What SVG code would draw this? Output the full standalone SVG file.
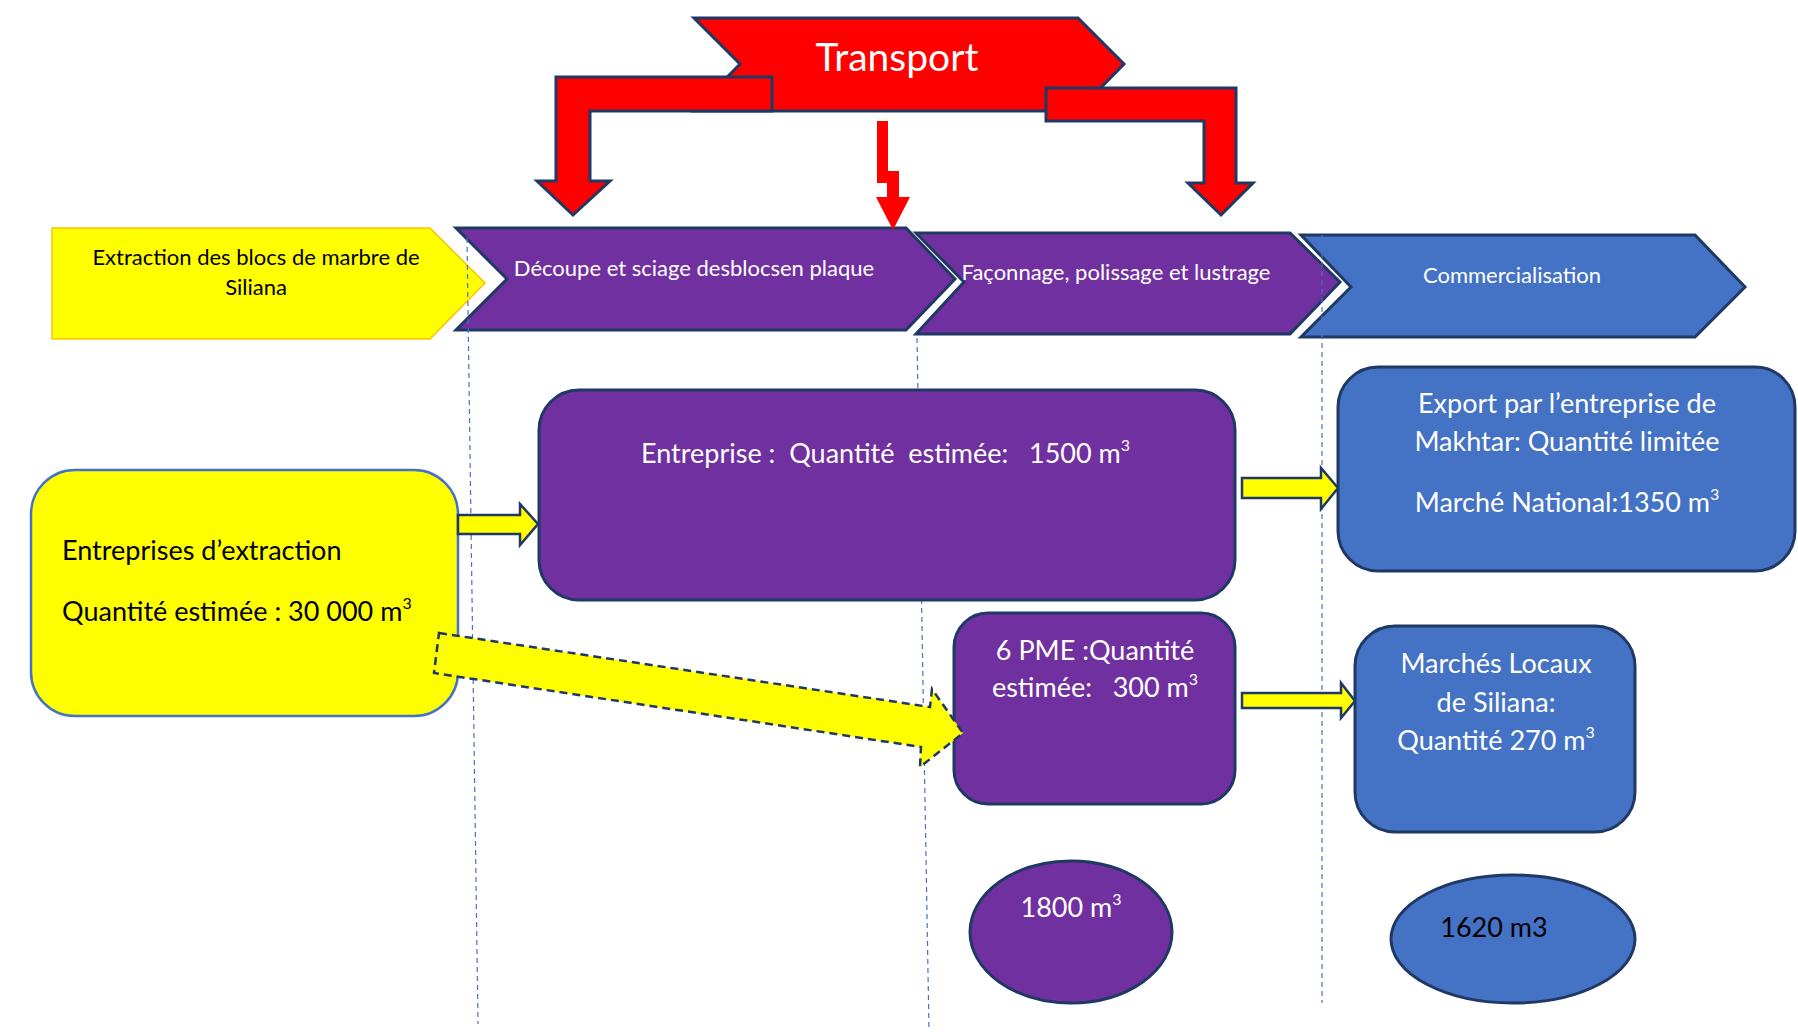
<svg xmlns="http://www.w3.org/2000/svg" width="1798" height="1032" viewBox="0 0 1798 1032">
<style>
text{font-family:Lato,"Open Sans","Liberation Sans",sans-serif}
.w{fill:#fff}
.k{fill:#000}
.chev{font-size:22px}
.box{font-size:27px}
.nv{stroke:#1F3864;stroke-width:3;stroke-linejoin:miter}
.purple{fill:#7030A0}
.blue{fill:#4472C4}
.yel{fill:#FFFF00}
.red{fill:#FF0000}
.dash{fill:none;stroke:#4472C4;stroke-width:1.2;stroke-dasharray:5 4}
.yarrow{fill:#FFFF00;stroke:#1F3864;stroke-width:2.5}
</style>
<rect width="1798" height="1032" fill="#fff"/>

<!-- process chevrons -->
<g id="step-extraction">
<polygon points="52,228 430,228 485,283 430,339 52,339" class="yel" stroke="#FFC000" stroke-width="1.5"/>
<text class="chev k" x="256" y="265" text-anchor="middle">Extraction des blocs de marbre de</text>
<text class="chev k" x="256" y="295" text-anchor="middle">Siliana</text>
</g>
<g id="step-decoupe">
<polygon points="456,228 906,228 955,279 906,330 456,330 507,279" class="purple nv"/>
<text class="chev w" x="694" y="276" text-anchor="middle">Découpe et sciage desblocsen plaque</text>
</g>
<g id="step-faconnage">
<polygon points="916,233 1290,233 1340,282 1290,334 916,334 964,282" class="purple nv"/>
<text class="chev w" x="1116" y="280" text-anchor="middle">Façonnage, polissage et lustrage</text>
</g>
<g id="step-commercialisation">
<polygon points="1301,235 1695,235 1745,287 1695,337 1301,337 1351,287" class="blue nv"/>
<text class="chev w" x="1512" y="283" text-anchor="middle">Commercialisation</text>
</g>

<!-- dashed separators -->
<g id="separators">
<line x1="467" y1="238" x2="478" y2="1024" class="dash"/>
<line x1="917" y1="338" x2="929" y2="1030" class="dash"/>
<line x1="1322" y1="235" x2="1322" y2="1003" class="dash"/>
</g>

<!-- nodes -->
<g id="entreprises-extraction">
<rect x="31" y="470" width="427" height="246" rx="44" ry="44" class="yel" stroke="#4472C4" stroke-width="2.5"/>
<text class="box k" x="62" y="560">Entreprises d’extraction</text>
<text class="box k" x="62" y="621">Quantité estimée : 30 000 m<tspan font-size="16" dy="-12">3</tspan></text>
</g>
<g id="entreprise">
<rect x="539" y="390" width="696" height="210" rx="40" ry="40" class="purple nv"/>
<text class="box w" x="641" y="463" xml:space="preserve">Entreprise :  Quantité  estimée:   1500 m<tspan font-size="16" dy="-12">3</tspan></text>
</g>
<g id="pme">
<rect x="954" y="613" width="281" height="191" rx="34" ry="34" class="purple nv"/>
<text class="box w" x="1095" y="660" text-anchor="middle">6 PME :Quantité</text>
<text class="box w" x="1095" y="697" text-anchor="middle" xml:space="preserve">estimée:   300 m<tspan font-size="16" dy="-12">3</tspan></text>
</g>
<g id="export">
<rect x="1338" y="367" width="457" height="204" rx="40" ry="40" class="blue nv"/>
<text class="box w" x="1567" y="413" text-anchor="middle">Export par l’entreprise de</text>
<text class="box w" x="1567" y="451" text-anchor="middle">Makhtar: Quantité limitée</text>
<text class="box w" x="1567" y="512" text-anchor="middle">Marché National:1350 m<tspan font-size="16" dy="-12">3</tspan></text>
</g>
<g id="marches-locaux">
<rect x="1355" y="626" width="280" height="206" rx="40" ry="40" class="blue nv"/>
<text class="box w" x="1496" y="673" text-anchor="middle">Marchés Locaux</text>
<text class="box w" x="1496" y="712" text-anchor="middle">de Siliana:</text>
<text class="box w" x="1496" y="750" text-anchor="middle">Quantité 270 m<tspan font-size="16" dy="-12">3</tspan></text>
</g>
<g id="total-1800">
<ellipse cx="1071" cy="932" rx="101" ry="71" class="purple nv"/>
<text class="box w" x="1071" y="917" text-anchor="middle">1800 m<tspan font-size="16" dy="-12">3</tspan></text>
</g>
<g id="total-1620">
<ellipse cx="1513" cy="939" rx="122" ry="64" class="blue nv"/>
<text class="box k" x="1494" y="937" text-anchor="middle">1620 m3</text>
</g>

<!-- connectors -->
<g id="connectors">
<polygon class="yarrow" points="458,515 520,515 520,504 538,524 520,545 520,534 458,534"/>
<polygon class="yarrow" points="1242,478 1321,478 1321,468 1338,488 1321,509 1321,498 1242,498"/>
<polygon class="yarrow" points="1242,693 1341,693 1341,683 1355,701 1341,718 1341,708 1242,708"/>
<polygon class="yarrow" stroke-dasharray="8 5" points="439,633 930,707 932,689 963,733 920,767 921,747 434,673"/>
</g>

<!-- transport -->
<g id="transport">
<polygon points="694,18 1078,18 1124,64 1078,111 694,111 740,64" class="red nv"/>
<polygon points="556,77 772,77 772,111 590,111 590,181 610,181 573,215 537,181 556,181" class="red nv"/>
<polygon points="1046,88 1236,88 1236,183 1253,183 1221,215 1188,183 1204,183 1204,121 1046,121" class="red nv"/>
<polygon points="877,121 888,121 888,171 899,171 899,197 910,197 893,230 876,197 887,197 887,183 877,183" class="red"/>
<text class="w" x="897" y="71" text-anchor="middle" font-size="39">Transport</text>
</g>
</svg>
